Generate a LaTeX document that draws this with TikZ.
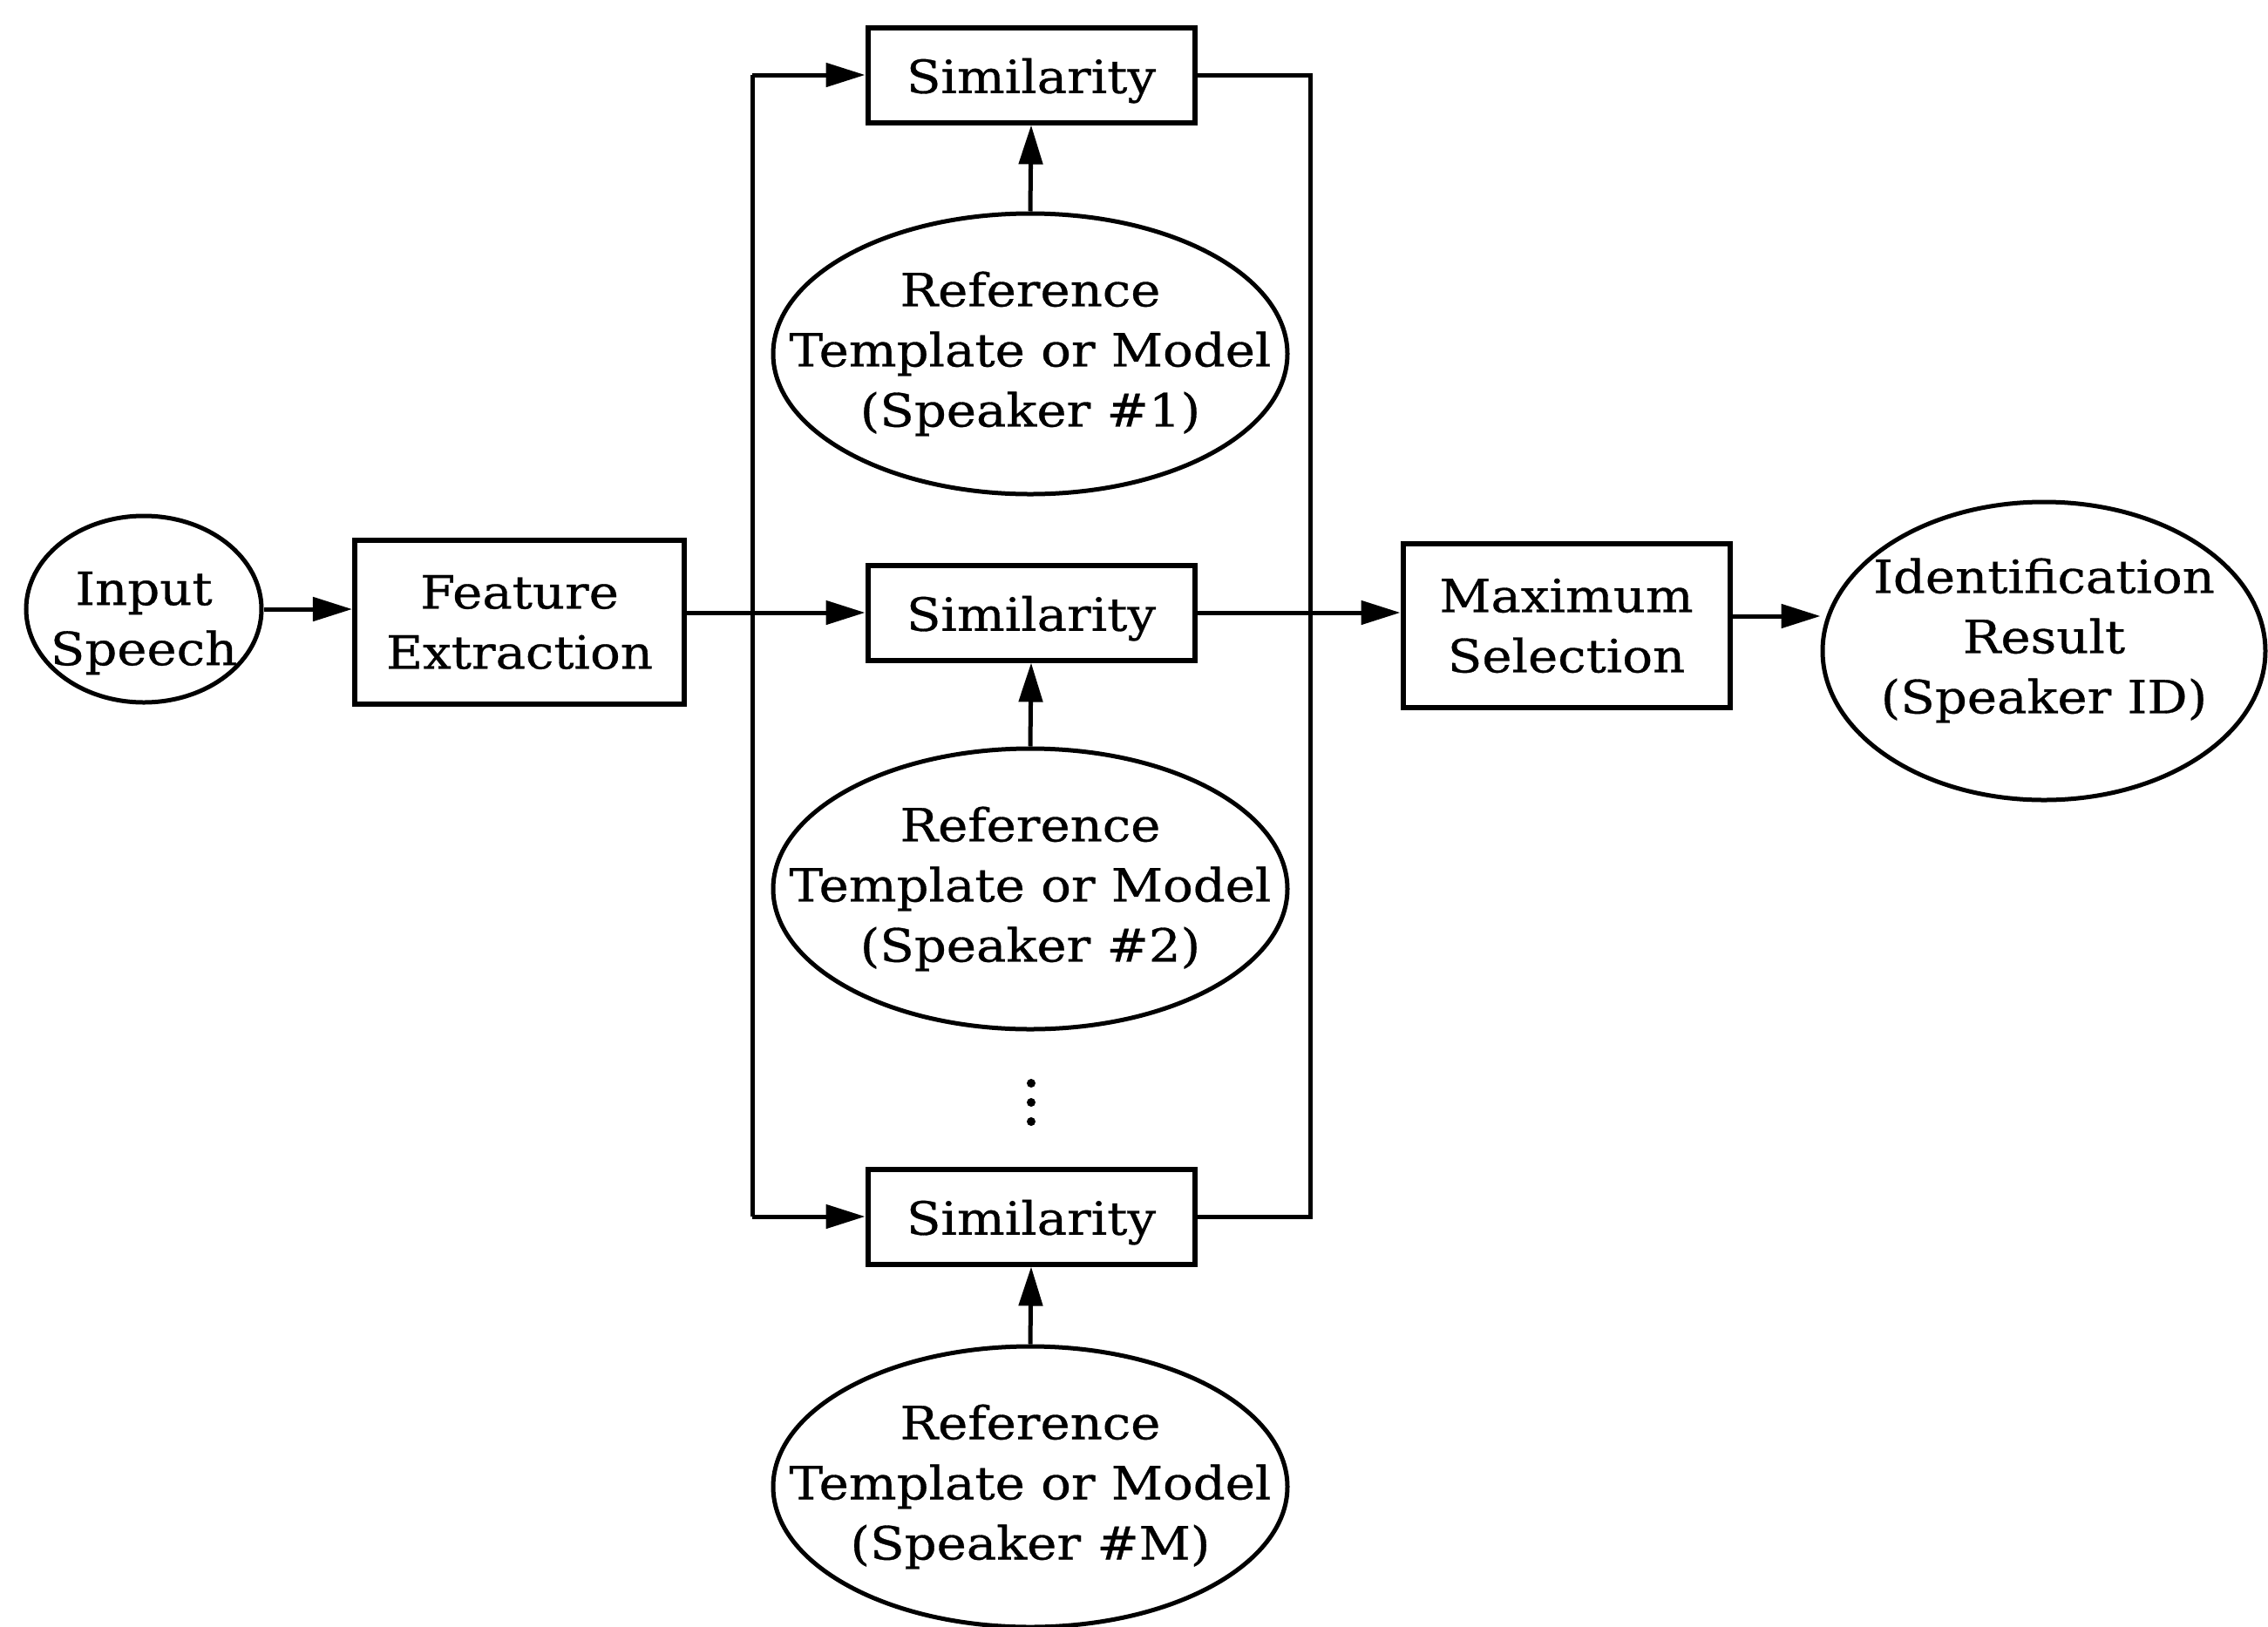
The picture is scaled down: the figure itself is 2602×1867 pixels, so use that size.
\documentclass[tikz,border=0pt]{standalone}
\usepackage{fontspec}
\setmainfont{DejaVu Serif}[FakeStretch=1.1,FakeBold=0.6]
\usetikzlibrary{arrows.meta,shapes.geometric}
\begin{document}
\begin{tikzpicture}[x=0.2pt,y=-0.2pt,
  font=\fontsize{10.5}{13.8}\selectfont,
  line width=1pt,
  arr/.style={-{Triangle[length=9pt,width=5.4pt]}},
  blk/.style={draw, line width=1.2pt, inner sep=0pt, align=center, minimum width=75pt},
  simbox/.style={blk, minimum height=21.8pt, text height=10.8pt, text depth=2.5pt},
  bigbox/.style={blk, minimum height=37.6pt},
  % ellipse of fixed size; its text is set as a centred label
  oval/.style={draw, ellipse, line width=1pt, inner sep=0pt},
  inside/.style={label={[align=center, inner sep=0pt]center:#1}},
  refoval/.style={oval, minimum width=118pt, minimum height=64.4pt}]
\useasboundingbox (0,0) rectangle (2602,1867);

% input, feature extraction, decision and result
\node[oval, minimum width=54pt, minimum height=42.8pt,
  label={[align=center, inner sep=0pt, yshift=-3.2pt]center:Input\\Speech}] (in) at (165,699) {};
\node[bigbox, minimum width=75.6pt] (fe) at (596,714) {Feature\\Extraction};
\node[bigbox] (ms) at (1797,718) {Maximum\\Selection};
\node[oval, minimum width=101.6pt, minimum height=68.4pt,
  label={[align=center, inner sep=0pt, yshift=2.4pt]center:Identification\\Result\\(Speaker ID)}] (id) at (2345,747) {};

% similarity blocks
\node[simbox] (s1) at (1183,86) {Similarity};
\node[simbox] (s2) at (1183,703) {Similarity};
\node[simbox] (sM) at (1183,1396) {Similarity};

% speaker reference models
\node[refoval, inside={Reference\\Template or Model\\(Speaker \#1)}] (r1) at (1182,406) {};
\node[refoval, inside={Reference\\Template or Model\\(Speaker \#2)}] (r2) at (1182,1020) {};
\node[refoval, inside={Reference\\Template or Model\\(Speaker \#M)}] (rM) at (1182,1706) {};

% bus corners
\coordinate (lt) at (863,86);
\coordinate (lb) at (863,1396);
\coordinate (rt) at (1503,86);
\coordinate (rb) at (1503,1396);

% connections
\draw[arr] (in.east) -- (in.east -| fe.west);
\draw[arr] (fe.east |- s2.west) -- (s2.west);
\draw (lt) -- (lb);
\draw[arr] (lt) -- (s1.west);
\draw[arr] (lb) -- (sM.west);
\draw (s1.east) -- (rt) -- (rb) -- (sM.east);
\draw[arr] (s2.east) -- (s2.east -| ms.west);
\draw[arr] (ms.east |- 0,707) -- (id.west |- 0,707);

\draw[arr] (r1.north) -- (s1.south);
\draw[arr] (r2.north) -- (s2.south);
\draw[arr] (rM.north) -- (sM.south);

% vertical ellipsis between speaker rows
\foreach \yy in {1243,1265,1287}
  \fill (1183,\yy) circle (1pt);
\end{tikzpicture}
\end{document}
